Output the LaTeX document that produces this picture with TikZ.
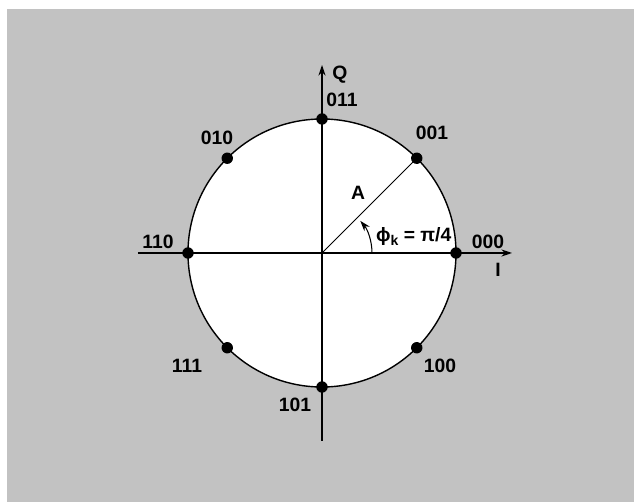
\documentclass[tikz,border=0pt]{standalone}
\usepackage{fontspec}
\setmainfont{Liberation Sans}
\usetikzlibrary{calc,arrows.meta}
\definecolor{scangray}{RGB}{194,194,194}

\begin{document}
\begin{tikzpicture}[x=0.02cm, y=0.02cm, >={Stealth[length=6pt,width=4pt]}, font=\fontsize{11}{13}\selectfont\bfseries,
		pt/.style={circle, fill=black, inner sep=0pt, minimum size=6.5pt},
		lbl/.style={inner sep=1pt}]
		\def\R{134}
		\useasboundingbox (-322,253) rectangle (312,-249);
		\fill[scangray] (-315,244) rectangle (312,-249);
		\coordinate (O) at (0,0);
		% circle and axes
		\fill[white] (O) circle (\R);
		\draw[line width=0.8pt] (O) circle (\R);
		\coordinate (Iw) at (-184,0);
		\coordinate (Ie) at (190,0);
		\coordinate (Qs) at (0,-188);
		\coordinate (Qn) at (0,188);
		\draw[->, line width=0.8pt] (Iw) -- (Ie);
		\draw[->, line width=0.8pt] (Qs) -- (Qn);
		% constellation points
		\foreach \a/\n in {0/p000, 45/p001, 90/p011, 135/p010, 180/p110, 225/p111, 270/p101, 315/p100}
			\node[pt] (\n) at (\a:\R) {};
		\draw[line width=0.6pt] (O) -- (p001.center);
		\draw[->, line width=0.6pt] (50,0) arc[start angle=0, end angle=40, radius=50];
		% labels
		\node[lbl] (q) at (18,178) {Q};
		\node[lbl] (i) at (176,-17) {I};
		\node[lbl] (l011) at (20,153) {011};
		\node[lbl] (l001) at (110,120) {001};
		\node[lbl] (l010) at (-105,115) {010};
		\node[lbl] (l110) at (-164,11) {110};
		\node[lbl] (l000) at (166,11) {000};
		\node[lbl] (l111) at (-135,-113) {111};
		\node[lbl] (l100) at (118,-113) {100};
		\node[lbl] (l101) at (-27,-152) {101};
		\node[lbl] (a) at (36,60) {A};
		\node[lbl, anchor=west] (phi) at (52,16) {ϕ\raisebox{-2pt}{\fontsize{8}{9}\selectfont k} = π/4};
	\end{tikzpicture}
\end{document}
